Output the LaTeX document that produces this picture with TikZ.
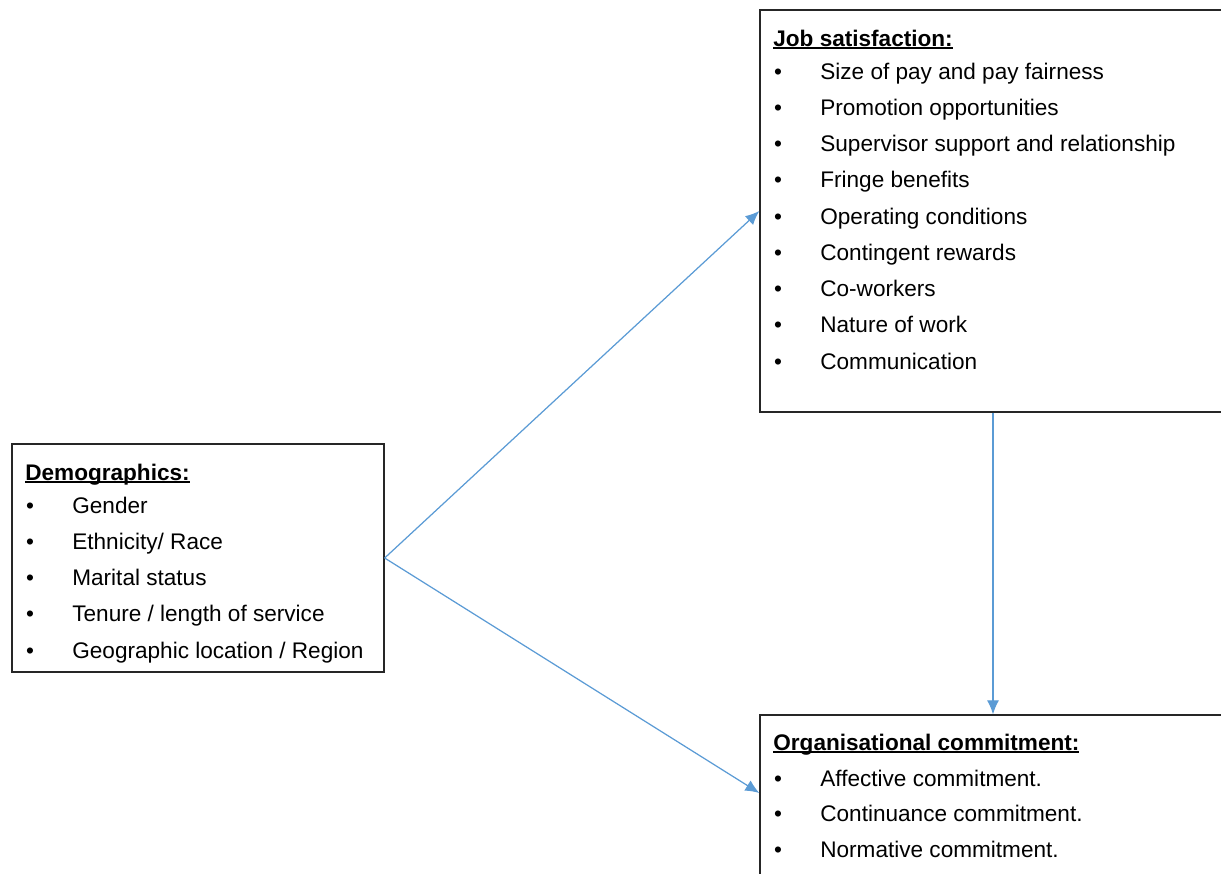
\documentclass[tikz,border=0pt]{standalone}
\usepackage{fontspec}
\setmainfont{Liberation Sans}
\usetikzlibrary{fit,arrows.meta}
\definecolor{arrowblue}{RGB}{91,155,213}
\newcommand{\headline}[1]{\setbox0=\hbox{#1}\rlap{\rule[-1.6pt]{\wd0}{0.9pt}}\box0}
\tikzstyle{mybox}=[draw=black!85,line width=0.75pt,inner sep=0pt]
\tikzstyle{myarrow}=[draw=arrowblue,line width=0.7pt,-{Latex[length=0.28cm,width=0.24cm]}]
\tikzstyle{mytext}=[anchor=base west,inner sep=0pt,font=\fontsize{12.85}{15}\selectfont]
\tikzstyle{myhead}=[mytext,font=\fontsize{12.85}{15}\selectfont\bfseries]
\tikzstyle{mydot}=[anchor=base,inner sep=0pt,font=\fontsize{12.85}{15}\selectfont]
\begin{document}
\begin{tikzpicture}[x=0.02cm,y=-0.02cm]
		\useasboundingbox (0,0) rectangle (1221,873);
		\clip (0,0) rectangle (1221,873);
%		boxes
		\node[mybox,fit={(760,10) (1226,412)}] (job) {};
		\node[mybox,fit={(12,444) (384,672)}] (demo) {};
		\node[mybox,fit={(760,715) (1226,879)}] (org) {};

		\node[myhead] (jobhead) at (773,46) {\headline{Job satisfaction:}};
		\foreach \t [count=\i] in {Size of pay and pay fairness,Promotion opportunities,Supervisor support and relationship,Fringe benefits,Operating conditions,Contingent rewards,Co-workers,Nature of work,Communication} {
			\node[mydot] (jobdot\i) at (778,{79+(\i-1)*36.25}) {\textbullet};
			\node[mytext] (jobitem\i) at (820,{79+(\i-1)*36.25}) {\t};
		}

		\node[myhead] (demohead) at (25,480) {\headline{Demographics:}};
		\foreach \t [count=\i] in {Gender,Ethnicity/ Race,Marital status,Tenure / length of service,Geographic location / Region} {
			\node[mydot] (demodot\i) at (30,{513+(\i-1)*36.3}) {\textbullet};
			\node[mytext] (demoitem\i) at (72,{513+(\i-1)*36.3}) {\t};
		}

		\node[myhead] (orghead) at (773,750) {\headline{Organisational commitment:}};
		\foreach \t [count=\i] in {Affective commitment.,Continuance commitment.,Normative commitment.} {
			\node[mydot] (orgdot\i) at (778,{786+(\i-1)*35.5}) {\textbullet};
			\node[mytext] (orgitem\i) at (820,{786+(\i-1)*35.5}) {\t};
		}

%		arrows
		\draw[myarrow] (demo.east) -- (job.west);
		\draw[myarrow] (demo.east) -- ([yshift=0.08cm]org.west);
		\draw[myarrow] (job.south) -- (org.north);
	\end{tikzpicture}
\end{document}
